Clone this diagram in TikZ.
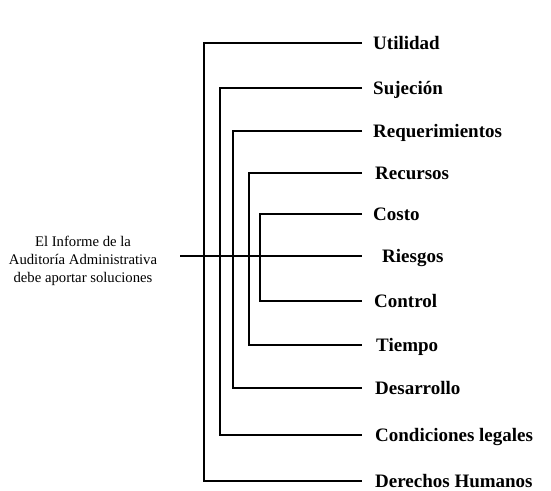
\documentclass[tikz,border=0pt]{standalone}
\usepackage{fontspec}
\setmainfont{Liberation Serif}
\begin{document}
\begin{tikzpicture}[x=1pt,y=-1pt,
  conn/.style={line width=1.7pt,black},
  lbl/.style={anchor=west,inner ysep=0pt,inner xsep=0pt,xshift=#1,
    font=\fontsize{19}{22}\selectfont\bfseries,text height=12.6pt,text depth=0pt},
  lbl/.default=11pt,
  intro/.style={align=center,font=\fontsize{14.7}{18}\selectfont,inner sep=0pt}]
\useasboundingbox (0,0) rectangle (551,490);
\node[lbl] (utl) at (362,43) {Utilidad};
\node[lbl] (suj) at (362,88) {Sujeción};
\node[lbl] (req) at (362,131) {Requerimientos};
\node[lbl=13pt] (rec) at (362,173) {Recursos};
\node[lbl] (cos) at (362,214) {Costo};
\node[lbl=20pt] (ris) at (362,256) {Riesgos};
\node[lbl=12pt] (ctl) at (362,301) {Control};
\node[lbl=14pt] (tie) at (362,345) {Tiempo};
\node[lbl=13pt] (des) at (362,388) {Desarrollo};
\node[lbl=13pt] (con) at (362,435) {Condiciones legales};
\node[lbl=13pt] (der) at (362,481) {Derechos Humanos};
\node[intro] (inf) at (83,261) {El Informe de la\\Auditoría Administrativa\\debe aportar soluciones};
\coordinate (start) at (180,256);
% connectors
\draw[conn] (start) -- (ris.west -| 362,0);
\draw[conn] (utl.west -| 362,0) -- (204,43) |- (der.west -| 362,0);
\draw[conn] (suj.west -| 362,0) -- (220,88) |- (con.west -| 362,0);
\draw[conn] (req.west -| 362,0) -- (233,131) |- (des.west -| 362,0);
\draw[conn] (rec.west -| 362,0) -- (249,173) |- (tie.west -| 362,0);
\draw[conn] (cos.west -| 362,0) -- (260,214) |- (ctl.west -| 362,0);
\end{tikzpicture}
\end{document}
